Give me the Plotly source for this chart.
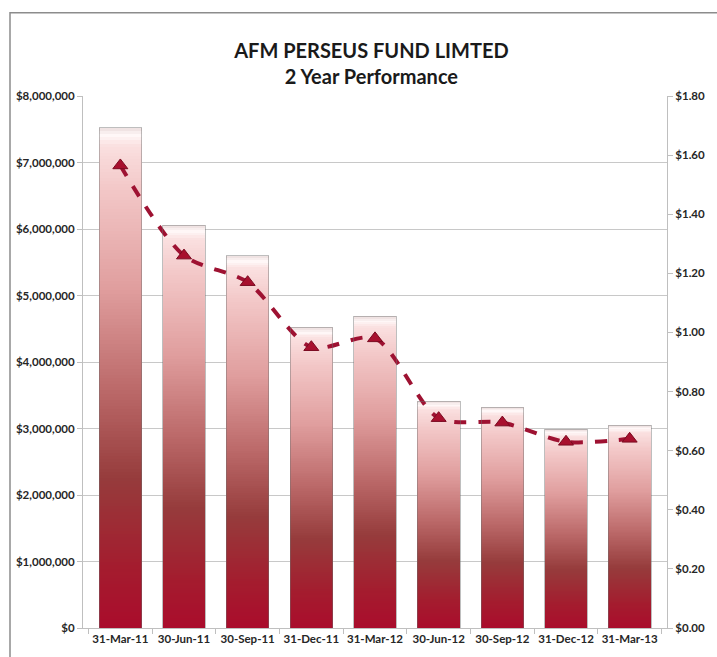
import plotly.graph_objects as go

categories = ["31-Mar-11", "30-Jun-11", "30-Sep-11", "31-Dec-11", "31-Mar-12",
              "30-Jun-12", "30-Sep-12", "31-Dec-12", "31-Mar-13"]
fund_size = [7520000, 6060000, 5600000, 4520000, 4690000, 3410000, 3320000, 2990000, 3050000]
unit_price = [1.565, 1.26, 1.17, 0.95, 0.98, 0.71, 0.695, 0.63, 0.64]

left_ticks = [0, 1000000, 2000000, 3000000, 4000000, 5000000, 6000000, 7000000, 8000000]
right_ticks = [0, 0.2, 0.4, 0.6, 0.8, 1.0, 1.2, 1.4, 1.6, 1.8]

# gradient stops (fraction of bar height from bottom, rgb)
stops = [
    (0.00, (170, 12, 44)),
    (0.12, (164, 28, 46)),
    (0.30, (150, 60, 60)),
    (0.48, (188, 106, 106)),
    (0.68, (224, 158, 158)),
    (0.88, (243, 200, 200)),
    (0.965, (250, 224, 224)),
    (0.985, (255, 248, 248)),
    (1.00, (236, 222, 222)),
]

def grad_color(t):
    for (t0, c0), (t1, c1) in zip(stops[:-1], stops[1:]):
        if t0 <= t <= t1:
            f = (t - t0) / (t1 - t0) if t1 > t0 else 0
            c = [round(a + (b - a) * f) for a, b in zip(c0, c1)]
            return f"rgb({c[0]},{c[1]},{c[2]})"
    c = stops[-1][1]
    return f"rgb({c[0]},{c[1]},{c[2]})"

N = 160
fig = go.Figure()
for i in range(N):
    t = (i + 0.5) / N
    fig.add_trace(go.Bar(
        x=categories,
        y=[v / N for v in fund_size],
        marker=dict(color=grad_color(t), line=dict(width=0)),
        yaxis="y",
        showlegend=False,
        hoverinfo="skip",
    ))

# soft outline of each bar
fig.add_trace(go.Bar(
    x=categories,
    y=fund_size,
    yaxis="y3",
    marker=dict(color="rgba(0,0,0,0)", line=dict(color="rgba(110,110,110,0.45)", width=1)),
    showlegend=False,
    hoverinfo="skip",
))

fig.add_trace(go.Scatter(
    x=categories,
    y=unit_price,
    yaxis="y2",
    mode="lines+markers",
    line=dict(color="#9E1232", width=4, dash="dash", shape="spline", smoothing=0.8),
    marker=dict(symbol="triangle-up", size=13, color="#A8102E",
                line=dict(color="#7A0A20", width=1)),
    showlegend=False,
))

font_family = "Lato, 'Open Sans', sans-serif"

fig.update_layout(
    width=717, height=657,
    margin=dict(l=83, r=42, t=96, b=25),
    paper_bgcolor="white",
    plot_bgcolor="white",
    barmode="stack",
    bargap=0.33,
    showlegend=False,
    font=dict(family=font_family, color="#262626"),
    title=dict(
        text="<b>AFM PERSEUS FUND LIMTED<br>2 Year Performance</b>",
        x=0.518, xanchor="center", y=0.912, yanchor="middle",
        font=dict(size=20, family=font_family, color="#1a1a1a"),
    ),
    xaxis=dict(
        type="category",
        showgrid=False,
        showline=True, linecolor="#BFBFBF", linewidth=1,
        ticks="outside", ticklen=5, tickcolor="#BFBFBF",
        tickson="boundaries",
        tickangle=0,
        tickfont=dict(size=11.5, family=font_family, color="#262626", weight="bold"),
    ),
    yaxis=dict(
        range=[0, 8000000],
        tickvals=left_ticks,
        tickformat="$,.0f",
        showgrid=True, gridcolor="#C8C8C8", gridwidth=1,
        showline=True, linecolor="#BFBFBF", linewidth=1,
        ticks="outside", ticklen=5, tickcolor="#BFBFBF",
        tickfont=dict(size=11.5, family=font_family, color="#262626", weight="bold"),
        zeroline=False,
    ),
    yaxis2=dict(
        range=[0, 1.8],
        tickvals=right_ticks,
        tickformat="$.2f",
        overlaying="y", side="right",
        showgrid=False,
        showline=True, linecolor="#BFBFBF", linewidth=1,
        ticks="outside", ticklen=5, tickcolor="#BFBFBF",
        tickfont=dict(size=11.5, family=font_family, color="#262626", weight="bold"),
        zeroline=False,
    ),
    yaxis3=dict(
        range=[0, 8000000],
        overlaying="y", side="left",
        visible=False,
        showgrid=False, zeroline=False,
    ),
    shapes=[
        dict(type="rect", xref="paper", yref="paper",
             x0=-0.125, x1=1.3, y0=-0.3, y1=1.1567,
             line=dict(color="#8C8C8C", width=1.5), fillcolor="rgba(0,0,0,0)",
             layer="below"),
    ],
)

fig.write_html("out.html")
